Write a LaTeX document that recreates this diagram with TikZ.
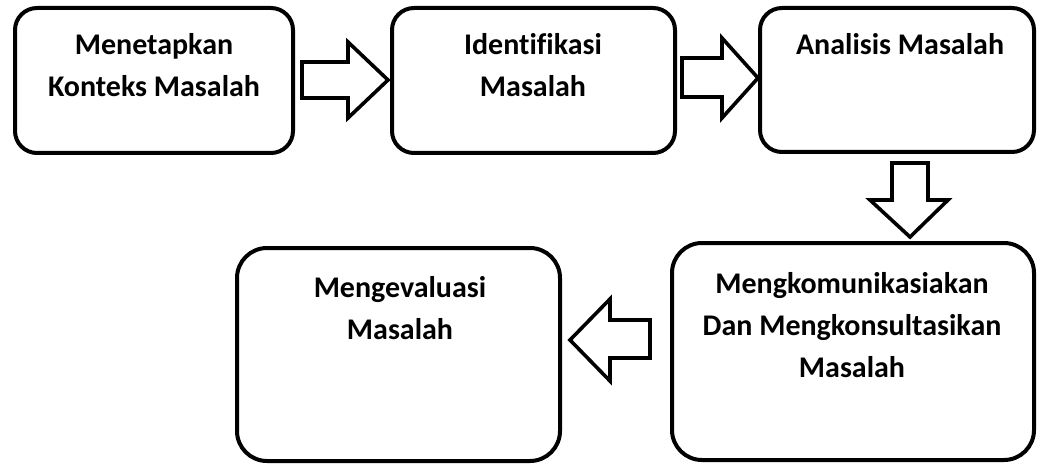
\documentclass[tikz,border=0pt]{standalone}
\usepackage{fontspec}
\setmainfont[Ligatures={NoCommon}]{Carlito}
\begin{document}
\begin{tikzpicture}[x=1pt,y=-1pt,
  box/.style={draw=black, line width=4pt, rounded corners=22pt, inner sep=0pt, fill=white},
  bigbox/.style={box, rounded corners=30pt},
  txt/.style={anchor=north, inner sep=0pt, align=center, font=\bfseries\fontsize{30}{42}\selectfont},
  blockarrow/.style={draw=black, line width=3.6pt, line join=miter, fill=white}]
\useasboundingbox[fill=white] (0,0) rectangle (1038,465);
% boxes
\node[box, minimum width=278pt, minimum height=145pt] (b1) at (154,80.5) {};
\node[box, minimum width=283pt, minimum height=145pt] (b2) at (533.5,80.5) {};
\node[box, minimum width=274pt, minimum height=144pt] (b3) at (897,80) {};
\node[bigbox, minimum width=362pt, minimum height=217pt] (b4) at (853,351.5) {};
\node[bigbox, minimum width=323pt, minimum height=213pt] (b5) at (398.5,354.5) {};
% texts
\node[txt] (t1) at (154,24) {\rule{0pt}{30pt}Menetapkan\\Konteks Masalah};
\node[txt] (t2) at (533,24) {\rule{0pt}{30pt}Identifikasi\\Masalah};
\node[txt] (t3) at (900,24) {\rule{0pt}{30pt}Analisis Masalah};
\node[txt] (t4) at (852,263) {\rule{0pt}{30pt}Mengkomunikasiakan\\Dan Mengkonsultasikan\\Masalah};
\node[txt] (t5) at (400,267) {\rule{0pt}{30pt}Mengevaluasi\\Masalah};
% block arrows
\draw[blockarrow] (302,62) -- (348,62) -- (348,42) -- (388,80) -- (348,118) -- (348,98) -- (302,98) -- cycle;
\draw[blockarrow] (682,58) -- (722,58) -- (722,38) -- (758,78) -- (722,118) -- (722,97) -- (682,97) -- cycle;
\draw[blockarrow] (892,163) -- (928,163) -- (928,200) -- (948,200) -- (910,237) -- (870,200) -- (892,200) -- cycle;
\draw[blockarrow] (650,320) -- (610,320) -- (610,299) -- (570,340) -- (610,381) -- (610,358) -- (650,358) -- cycle;
\end{tikzpicture}
\end{document}
